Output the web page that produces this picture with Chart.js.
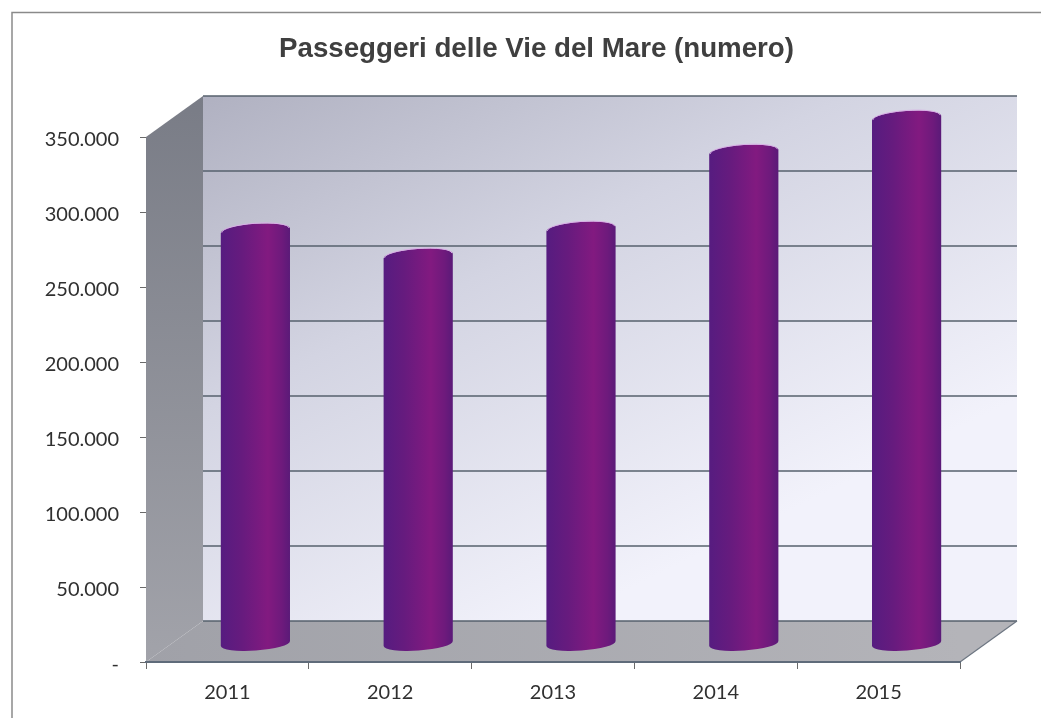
<!DOCTYPE html>
<html>
<head>
<meta charset="utf-8">
<title>Passeggeri delle Vie del Mare</title>
<script src="https://cdn.jsdelivr.net/npm/chart.js@4/dist/chart.umd.min.js"></script>
<style>
  body { margin: 0; background: #fff; overflow: hidden; }
  canvas { display: block; }
</style>
</head>
<body>
<canvas id="grafico" width="1041" height="718"></canvas>
<script>
const titolo = 'Passeggeri delle Vie del Mare (numero)'
const anni = ['2011', '2012', '2013', '2014', '2015']
const passeggeri = [275500, 258700, 276700, 328000, 350700]
const etichetteY = ['-', '50.000', '100.000', '150.000', '200.000', '250.000', '300.000', '350.000']

// profondita' finta del 3D
const fondoX = 57
const fondoY = 41
const barraX = 28
const barraY = 18
const raggioY = 7
const tilt = -0.07

const sfondo3d = {
  id: 'sfondo3d',
  beforeDraw(chart) {
    const { ctx, scales } = chart
    const l = scales.x.left, r = scales.x.right, t = scales.y.top, b = scales.y.bottom
    ctx.save()

    // cornice della scansione
    ctx.strokeStyle = '#8a8a8a'
    ctx.lineWidth = 1.5
    ctx.beginPath()
    ctx.moveTo(12, 718)
    ctx.lineTo(12, 12.5)
    ctx.lineTo(1041, 12.5)
    ctx.stroke()

    // parete di fondo
    let g = ctx.createLinearGradient(l + fondoX, t - fondoY, r - 480, b)
    g.addColorStop(0, '#b0b1c1')
    g.addColorStop(0.45, '#d3d4e2')
    g.addColorStop(1, '#f2f2fb')
    ctx.fillStyle = g
    ctx.fillRect(l + fondoX, t - fondoY, r - l, b - t)

    // parete laterale
    g = ctx.createLinearGradient(0, t - fondoY, 0, b)
    g.addColorStop(0, '#797c86')
    g.addColorStop(1, '#a2a3aa')
    ctx.fillStyle = g
    ctx.beginPath()
    ctx.moveTo(l, t)
    ctx.lineTo(l + fondoX, t - fondoY)
    ctx.lineTo(l + fondoX, b - fondoY)
    ctx.lineTo(l, b)
    ctx.closePath()
    ctx.fill()

    // pavimento
    g = ctx.createLinearGradient(l, 0, r, 0)
    g.addColorStop(0, '#a0a1a8')
    g.addColorStop(1, '#b4b4b9')
    ctx.fillStyle = g
    ctx.beginPath()
    ctx.moveTo(l, b)
    ctx.lineTo(r, b)
    ctx.lineTo(r + fondoX, b - fondoY)
    ctx.lineTo(l + fondoX, b - fondoY)
    ctx.closePath()
    ctx.fill()

    // griglia sulla parete di fondo
    ctx.strokeStyle = '#56606c'
    ctx.lineWidth = 1.4
    scales.y.ticks.forEach(tick => {
      const y = scales.y.getPixelForValue(tick.value) - fondoY
      ctx.beginPath()
      ctx.moveTo(l + fondoX, y)
      ctx.lineTo(r + fondoX, y)
      ctx.stroke()
    })

    // bordo destro del pavimento
    ctx.strokeStyle = '#6d7682'
    ctx.lineWidth = 1.2
    ctx.beginPath()
    ctx.moveTo(r, b)
    ctx.lineTo(r + fondoX, b - fondoY)
    ctx.stroke()
    ctx.restore()
  }
}

const cilindri = {
  id: 'cilindri',
  afterDatasetsDraw(chart) {
    const { ctx } = chart
    chart.getDatasetMeta(0).data.forEach(el => {
      const cx = el.x + barraX
      const hw = el.width / 2
      const top = el.y - barraY
      const base = el.base - barraY
      const g = ctx.createLinearGradient(cx - hw, 0, cx + hw, 0)
      g.addColorStop(0, '#561c80')
      g.addColorStop(0.3, '#661b7e')
      g.addColorStop(0.68, '#821a80')
      g.addColorStop(0.88, '#6e1a7c')
      g.addColorStop(1, '#5a1a78')
      ctx.save()
      ctx.fillStyle = g
      ctx.beginPath()
      ctx.ellipse(cx, top, hw, raggioY, tilt, Math.PI, Math.PI * 2)
      ctx.ellipse(cx, base, hw, raggioY, tilt, 0, Math.PI)
      ctx.closePath()
      ctx.fill()
      ctx.strokeStyle = '#d9aee6'
      ctx.lineWidth = 1
      ctx.beginPath()
      ctx.ellipse(cx, top - 0.5, hw - 1, raggioY, tilt, Math.PI, Math.PI * 2)
      ctx.stroke()
      ctx.restore()
    })
  }
}

const contexto = document.getElementById('grafico').getContext('2d')
new Chart(contexto, {
  type: 'bar',
  data: {
    labels: anni,
    datasets: [{
      label: 'Passeggeri',
      data: passeggeri,
      backgroundColor: 'transparent',
      categoryPercentage: 1,
      barPercentage: 0.426
    }]
  },
  plugins: [sfondo3d, cilindri],
  options: {
    responsive: false,
    animation: false,
    layout: { padding: { left: 32, right: 0, top: 0, bottom: 0 } },
    plugins: {
      legend: { display: false },
      tooltip: { enabled: false },
      title: {
        display: true,
        text: titolo,
        color: '#3f3f3f',
        font: { family: '"Liberation Sans", Arial, sans-serif', size: 27.7, weight: 'bold', lineHeight: 1.2 },
        padding: { top: 33, bottom: 70.8 }
      }
    },
    scales: {
      x: {
        afterFit: s => { s.height = 56 },
        border: { color: '#5f6b7a', width: 2 },
        grid: { drawOnChartArea: false, drawTicks: true, tickLength: 7, color: '#6a6a6a' },
        ticks: { color: '#303030', padding: 12, maxRotation: 0, font: { family: 'Lato, sans-serif', size: 20 } }
      },
      y: {
        min: 0,
        max: 350000,
        afterFit: s => { s.width = 114 },
        border: { display: false },
        grid: { drawOnChartArea: false, drawTicks: true, tickLength: 6, color: '#6a6a6a' },
        ticks: {
          stepSize: 50000,
          padding: 21,
          labelOffset: 3,
          color: '#303030',
          font: { family: 'Lato, sans-serif', size: 20 },
          callback: (v, i) => etichetteY[i]
        }
      },
      // asse vuoto: tiene il margine destro senza spostare il titolo
      margine: {
        position: 'right',
        afterFit: s => { s.width = 81 },
        border: { display: false },
        grid: { display: false },
        ticks: { display: false }
      }
    }
  }
})
</script>
</body>
</html>
